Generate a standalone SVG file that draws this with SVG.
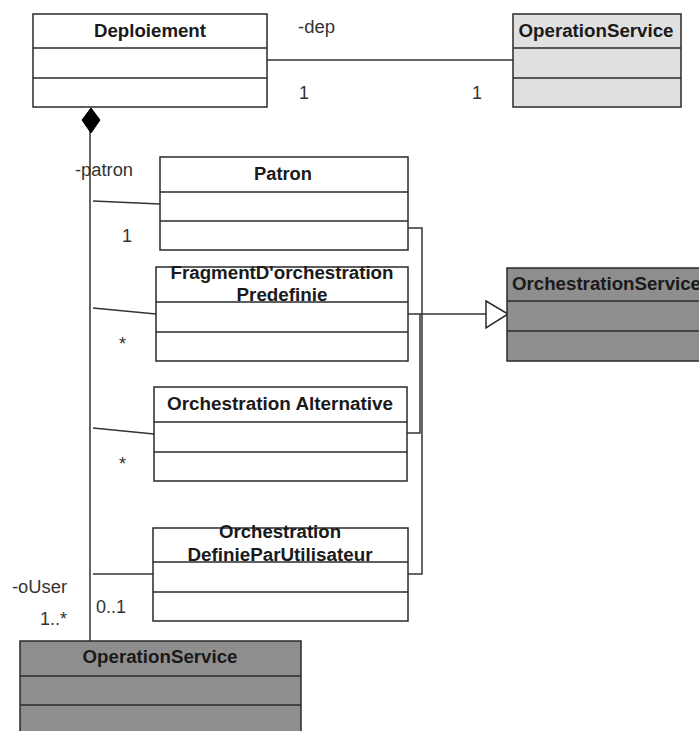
<svg xmlns="http://www.w3.org/2000/svg" width="699" height="731" viewBox="0 0 699 731">
<style>
.box{stroke:#2a2a2a;stroke-width:1.5}
.w{fill:#ffffff}
.lg{fill:#e0e0e0}
.dg{fill:#8e8e8e}
.div{stroke:#2a2a2a;stroke-width:1.5}
.t{font-family:"Liberation Sans",Arial,sans-serif;font-weight:bold;font-size:18px;fill:#1a1a1a;text-anchor:middle}
.l{font-family:"Liberation Sans",Arial,sans-serif;font-size:18px;fill:#333333}
.c{stroke:#333333;stroke-width:1.5;fill:none}
</style>
<rect width="699" height="731" fill="#ffffff"/>
<g id="connectors">
  <line class="c" x1="267" y1="60" x2="513" y2="60"/>
  <line class="c" x1="90" y1="131" x2="90" y2="641"/>
  <polygon points="91,108 100,120 91,133 82,120" fill="#000000" stroke="#000000" stroke-width="1"/>
  <line class="c" x1="93" y1="201" x2="160" y2="204"/>
  <line class="c" x1="93" y1="308" x2="156" y2="314"/>
  <line class="c" x1="93" y1="428" x2="154" y2="434"/>
  <line class="c" x1="93" y1="574" x2="153" y2="574"/>
  <polyline class="c" points="408,228 422,228 422,574 408,574"/>
  <line class="c" x1="408" y1="314" x2="486" y2="314" stroke-width="2"/>
  <polyline class="c" points="407,433 420,433 420,314" stroke-width="2"/>
  <polygon points="486,301 508,314 486,328" fill="#ffffff" stroke="#2a2a2a" stroke-width="1.5"/>
  <text class="l" x="298" y="33" textLength="37" lengthAdjust="spacingAndGlyphs">-dep</text>
  <text class="l" x="299" y="99">1</text>
  <text class="l" x="472" y="99">1</text>
  <text class="l" x="75" y="176" textLength="58" lengthAdjust="spacingAndGlyphs">-patron</text>
  <text class="l" x="122" y="242">1</text>
  <text class="l" x="119" y="350">*</text>
  <text class="l" x="119" y="470">*</text>
  <text class="l" x="12" y="593" textLength="55" lengthAdjust="spacingAndGlyphs">-oUser</text>
  <text class="l" x="40" y="625">1..*</text>
  <text class="l" x="96" y="613">0..1</text>
</g>
<g id="Deploiement">
  <rect class="box w" x="33" y="14" width="234" height="93"/>
  <line class="div" x1="33" y1="48" x2="267" y2="48"/>
  <line class="div" x1="33" y1="78" x2="267" y2="78"/>
  <text class="t" x="150" y="37" textLength="112" lengthAdjust="spacingAndGlyphs">Deploiement</text>
</g>
<g id="OperationServiceTop">
  <rect class="box lg" x="513" y="14" width="168" height="93"/>
  <line class="div" x1="513" y1="48" x2="681" y2="48"/>
  <line class="div" x1="513" y1="78" x2="681" y2="78"/>
  <text class="t" x="596" y="37" textLength="155" lengthAdjust="spacingAndGlyphs">OperationService</text>
</g>
<g id="Patron">
  <rect class="box w" x="160" y="157" width="248" height="93"/>
  <line class="div" x1="160" y1="192" x2="408" y2="192"/>
  <line class="div" x1="160" y1="221" x2="408" y2="221"/>
  <text class="t" x="283" y="180" textLength="58" lengthAdjust="spacingAndGlyphs">Patron</text>
</g>
<g id="FragmentDorchestrationPredefinie">
  <rect class="box w" x="156" y="267" width="252" height="94"/>
  <line class="div" x1="156" y1="302" x2="408" y2="302"/>
  <line class="div" x1="156" y1="332" x2="408" y2="332"/>
  <text class="t" x="282" y="279" textLength="223" lengthAdjust="spacingAndGlyphs">FragmentD'orchestration</text>
  <text class="t" x="282" y="301" textLength="91" lengthAdjust="spacingAndGlyphs">Predefinie</text>
</g>
<g id="OrchestrationService">
  <rect class="box dg" x="507" y="268" width="200" height="93"/>
  <line class="div" x1="507" y1="301" x2="699" y2="301"/>
  <line class="div" x1="507" y1="331" x2="699" y2="331"/>
  <text class="t" x="512" y="290" style="text-anchor:start" textLength="189" lengthAdjust="spacingAndGlyphs">OrchestrationService</text>
</g>
<g id="OrchestrationAlternative">
  <rect class="box w" x="154" y="387" width="253" height="94"/>
  <line class="div" x1="154" y1="422" x2="407" y2="422"/>
  <line class="div" x1="154" y1="452" x2="407" y2="452"/>
  <text class="t" x="280" y="410" textLength="226" lengthAdjust="spacingAndGlyphs">Orchestration Alternative</text>
</g>
<g id="OrchestrationDefinieParUtilisateur">
  <rect class="box w" x="153" y="528" width="255" height="93"/>
  <line class="div" x1="153" y1="562" x2="408" y2="562"/>
  <line class="div" x1="153" y1="592" x2="408" y2="592"/>
  <text class="t" x="280" y="538" textLength="122" lengthAdjust="spacingAndGlyphs">Orchestration</text>
  <text class="t" x="280" y="561" textLength="185" lengthAdjust="spacingAndGlyphs">DefinieParUtilisateur</text>
</g>
<g id="OperationServiceBottom">
  <rect class="box dg" x="20" y="641" width="281" height="100"/>
  <line class="div" x1="20" y1="676" x2="301" y2="676"/>
  <line class="div" x1="20" y1="705" x2="301" y2="705"/>
  <text class="t" x="160" y="663" textLength="155" lengthAdjust="spacingAndGlyphs">OperationService</text>
</g>
</svg>
